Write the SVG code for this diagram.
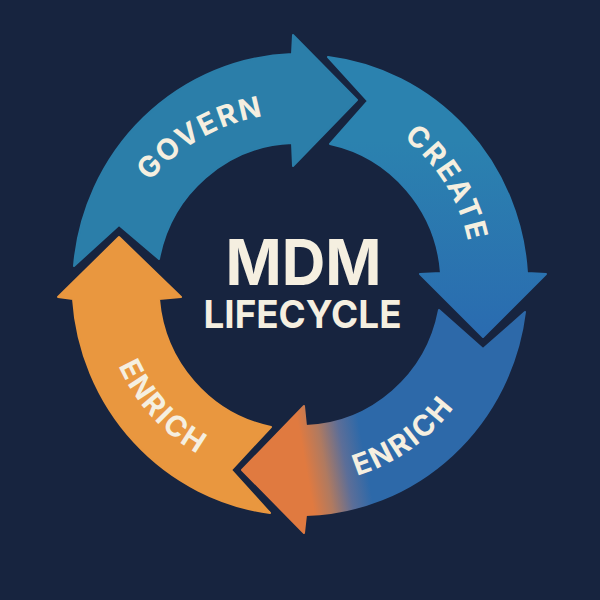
<svg xmlns="http://www.w3.org/2000/svg" width="600" height="600" viewBox="0 0 600 600">
<style>
.arrow{stroke-width:2;stroke-linejoin:round}
.lbl{font-family:"Inter","Liberation Sans",sans-serif;font-weight:700;font-size:29px;fill:#f5efe0;text-anchor:middle;letter-spacing:2px}
.title{font-family:"Inter","Liberation Sans",sans-serif;font-weight:700;fill:#f5efe0;text-anchor:middle}
</style>
<defs>
<linearGradient id="gCreate" gradientUnits="userSpaceOnUse" x1="0" y1="60" x2="0" y2="330"><stop offset="0.3" stop-color="#2b82af"/><stop offset="1" stop-color="#2a6cb0"/></linearGradient>
<linearGradient id="gEnrich" gradientUnits="userSpaceOnUse" x1="298" y1="470" x2="365" y2="458"><stop offset="0.12" stop-color="#e07a40"/><stop offset="0.4" stop-color="#b07a60"/><stop offset="0.7" stop-color="#5c6e98"/><stop offset="1" stop-color="#2d69a9"/></linearGradient>
<path id="pGovern" d="M140,194 A190,190 0 0 1 280,114"/>
<path id="pCreate" d="M395,132 A176,176 0 0 1 470,253"/>
<path id="pEnrichB" d="M335,481 A190,190 0 0 0 467,387"/>
<path id="pEnrichO" d="M111,346 A190,190 0 0 0 218,464"/>
</defs>
<rect id="background" width="600" height="600" fill="#17243f"/>
<g id="node-govern">
<path class="arrow" fill="#2b7ea9" stroke="#2b7ea9" d="M74,266 A227,232 0 0 1 292,54 L293,35 L357,100 L293,166 L292,143 A141,143 0 0 0 159,259 L119,225 Z"/>
<text class="lbl"><textPath href="#pGovern" startOffset="50%">GOVERN</textPath></text>
</g>
<g id="node-create">
<path class="arrow" fill="url(#gCreate)" stroke="url(#gCreate)" d="M328,57 A227,232 0 0 1 527,273 L546,274 L483,337 L420,274 L441,273 A141,143 0 0 0 330,144 L368,101 Z"/>
<text class="lbl"><textPath href="#pCreate" startOffset="50%">CREATE</textPath></text>
</g>
<g id="node-enrich-blue">
<path class="arrow" fill="url(#gEnrich)" stroke="url(#gEnrich)" d="M525,312 A227,232 0 0 1 306,515 L304,533 L242,470 L304,406 L306,426 A141,143 0 0 0 439,310 L483,349 Z"/>
<text class="lbl"><textPath href="#pEnrichB" startOffset="50%">ENRICH</textPath></text>
</g>
<g id="node-enrich-orange">
<path class="arrow" fill="#e9973f" stroke="#e9973f" d="M270,513 A227,232 0 0 1 73,299 L58,297 L119,237 L181,297 L159,299 A141,143 0 0 0 271,427 L231,470 Z"/>
<text class="lbl"><textPath href="#pEnrichO" startOffset="50%">ENRICH</textPath></text>
</g>
<g id="center-title">
<text class="title" x="303.5" y="285" font-size="63" textLength="156" lengthAdjust="spacingAndGlyphs">MDM</text>
<text class="title" x="302.5" y="328" font-size="38.5" textLength="198" lengthAdjust="spacingAndGlyphs">LIFECYCLE</text>
</g>
</svg>
